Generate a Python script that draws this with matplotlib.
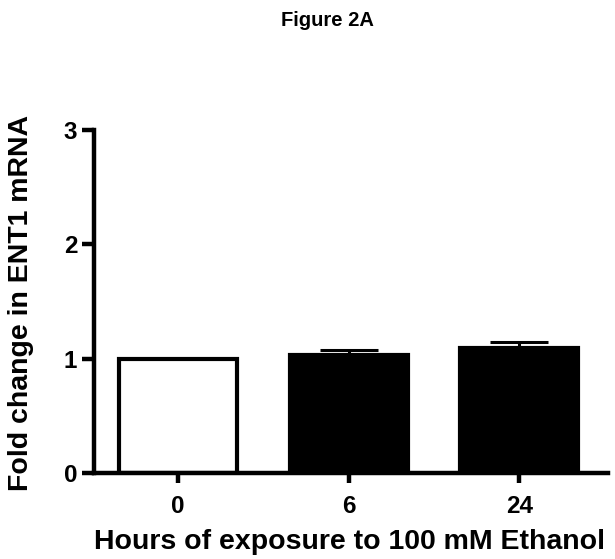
import matplotlib.pyplot as plt

plt.rcParams['font.family'] = ['Liberation Sans', 'DejaVu Sans']
plt.rcParams['font.weight'] = 'bold'

# Data
hours = ['0', '6', '24']
fold_change = [1.00, 1.03, 1.09]
sem_upper = [0.0, 0.05, 0.06]
fill_colors = ['white', 'black', 'black']

fig = plt.figure(figsize=(6.15, 5.59), dpi=100)
ax = fig.add_axes([94 / 615, 86 / 559, (608 - 94) / 615, (473 - 130) / 559])

x = range(len(hours))
ax.bar(x, fold_change, width=0.69, color=fill_colors, edgecolor='black', linewidth=3.0, zorder=2)
ax.errorbar(x, fold_change, yerr=[[0, 0, 0], sem_upper], fmt='none', ecolor='black',
            elinewidth=2.2, capsize=21, capthick=2.2, zorder=1)

ax.set_xlim(-0.493, 2.52)
ax.set_ylim(0, 3)
ax.set_yticks([0, 1, 2, 3])
ax.set_xticks(list(x))
ax.set_xticklabels(hours)

for side in ['top', 'right']:
    ax.spines[side].set_visible(False)
for side in ['left', 'bottom']:
    ax.spines[side].set_linewidth(3.2)

ax.tick_params(axis='x', length=7, width=3.2, labelsize=17.5, pad=9)
ax.tick_params(axis='y', length=9, width=3.2, labelsize=17.5, pad=3)

# label anchors: x-label by its top edge, y-label by its right (bottom) edge
ax.set_xlabel('Hours of exposure to 100 mM Ethanol', fontsize=20.5, fontweight='bold')
ax.xaxis.set_label_coords((350 - 94) / 514, -(529 - 473) / 343)
ax.set_ylabel('Fold change in ENT1 mRNA', fontsize=20.5, fontweight='bold')
ax.yaxis.set_label_coords(-(94 - 34) / 514, (473 - 303) / 343)

fig.text(327 / 615, 1 - 21 / 559, 'Figure 2A', ha='center', va='center', fontsize=14.5, fontweight='bold')

fig.savefig('out.png', dpi=100)
